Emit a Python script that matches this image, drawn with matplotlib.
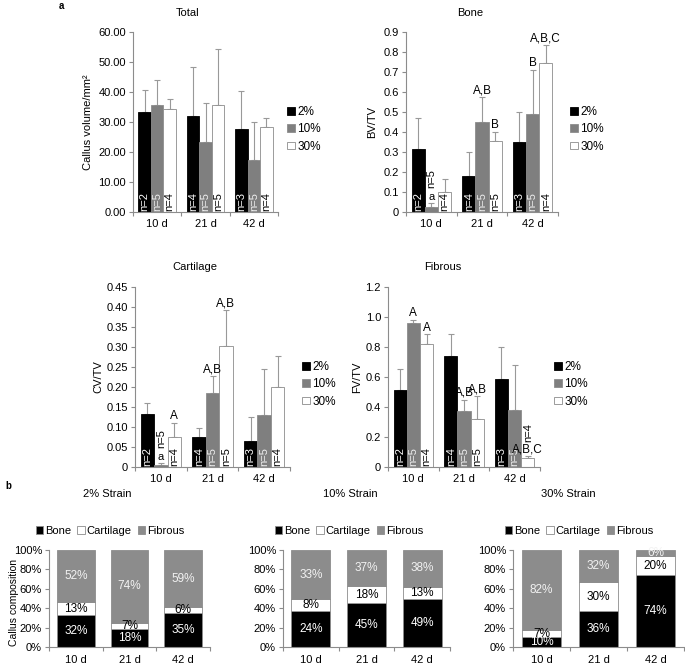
import matplotlib
matplotlib.use("Agg")
import matplotlib.pyplot as plt
import numpy as np
from matplotlib.patches import Patch

plt.rcParams['font.family'] = ['Liberation Sans', 'DejaVu Sans']
plt.rcParams['font.size'] = 8

W, H = 685, 667

days = ['10 d', '21 d', '42 d']
strains = ['2%', '10%', '30%']
n_counts = [[2, 4, 3], [5, 5, 5], [4, 5, 4]]

# means / SD, one row per strain (2%, 10%, 30%), columns = 10 d, 21 d, 42 d
total_mean = [[33.4, 31.9, 27.6], [35.6, 23.2, 17.2], [34.4, 35.6, 28.2]]
total_sd = [[7.2, 16.6, 12.9], [8.4, 13.3, 12.7], [3.4, 18.8, 3.0]]

bone_mean = [[0.317, 0.178, 0.35], [0.025, 0.452, 0.488], [0.10, 0.357, 0.745]]
bone_sd = [[0.153, 0.122, 0.15], [0.022, 0.123, 0.224], [0.067, 0.045, 0.088]]

cart_mean = [[0.133, 0.074, 0.064], [0.006, 0.185, 0.129], [0.074, 0.302, 0.201]]
cart_sd = [[0.027, 0.024, 0.06], [0.005, 0.043, 0.116], [0.037, 0.091, 0.076]]

fib_mean = [[0.516, 0.738, 0.584], [0.96, 0.376, 0.38], [0.818, 0.32, 0.06]]
fib_sd = [[0.14, 0.149, 0.216], [0.02, 0.073, 0.30], [0.066, 0.151, 0.011]]

# significance letters: (day, strain, text)
bone_letters = [(0, 1, 'a'), (1, 1, 'A,B'), (1, 2, 'B'), (2, 1, 'B'), (2, 2, 'A,B,C')]
cart_letters = [(0, 1, 'a'), (0, 2, 'A'), (1, 1, 'A,B'), (1, 2, 'A,B')]
fib_letters = [(0, 1, 'A'), (0, 2, 'A'), (1, 1, 'A,B'), (1, 2, 'A,B'), (2, 2, 'A,B,C')]

# callus composition (%), rows = strain, columns = day
comp_bone = [[32, 18, 35], [24, 45, 49], [10, 36, 74]]
comp_cart = [[13, 7, 6], [8, 18, 13], [7, 30, 20]]
comp_fib = [[52, 74, 59], [33, 37, 38], [82, 32, 6]]

bar_colors = ['black', '#7f7f7f', 'white']
text_colors = ['white', '#f0f0f0', 'black']
axis_gray = '#8c8c8c'


def rect(l, r, t, b):
    return [l / W, 1 - b / H, (r - l) / W, (b - t) / H]


def style_axis(ax, ymax, step, fmt):
    ax.set_xlim(-0.5, 2.5)
    ax.set_ylim(0, ymax)
    for s in ['top', 'right']:
        ax.spines[s].set_visible(False)
    for s in ['left', 'bottom']:
        ax.spines[s].set_color(axis_gray)
        ax.spines[s].set_linewidth(0.8)
    ticks = np.arange(0, ymax + step / 2, step)
    ax.set_yticks(ticks)
    ax.set_yticklabels([fmt(v) for v in ticks])
    ax.set_xticks([-0.5, 0.5, 1.5, 2.5])
    ax.set_xticklabels([])
    ax.set_xticks([0, 1, 2], minor=True)
    ax.set_xticklabels(days, minor=True)
    ax.tick_params(axis='x', which='minor', length=0, pad=5, labelsize=8)
    ax.tick_params(axis='both', which='major', length=3, color=axis_gray,
                   width=0.8, labelsize=8, pad=2)


def bar_panel(rc, mean, sd, ymax, step, fmt, letters, n_above):
    ax = fig.add_axes(rc)
    for s in range(3):
        x = np.arange(3) + (s - 1) * 0.26
        ax.bar(x, mean[s], width=0.26, color=bar_colors[s],
               edgecolor='black' if s == 0 else axis_gray, linewidth=0.6, zorder=2)
        ax.errorbar(x, mean[s], yerr=[np.zeros(3), sd[s]], fmt='none',
                    ecolor='#999999', elinewidth=0.8, capsize=2, capthick=0.8, zorder=1)
        for d in range(3):
            if (d, s) in n_above:
                continue
            ax.text(x[d], ymax * 0.008, 'n=%d' % n_counts[s][d], rotation=90,
                    ha='center', va='bottom', color=text_colors[s], fontsize=8, zorder=3)
    for d, s, txt in letters:
        x = d + (s - 1) * 0.26
        top = mean[s][d] + sd[s][d]
        ax.annotate(txt, (x, top), xytext=(0, 0.5), textcoords='offset points',
                    ha='center', va='bottom', fontsize=8.5 if txt != 'a' else 8, zorder=4)
        if (d, s) in n_above:
            ax.annotate('n=%d' % n_counts[s][d], (x, top), xytext=(0, 10.5),
                        textcoords='offset points', rotation=90,
                        ha='center', va='bottom', fontsize=8)
    style_axis(ax, ymax, step, fmt)
    return ax


def legend_top(x, y):
    handles = [Patch(facecolor=bar_colors[s], edgecolor='black' if s == 0 else axis_gray,
                     linewidth=0.6, label=strains[s]) for s in range(3)]
    fig.legend(handles=handles, loc='upper left', bbox_to_anchor=(x / W, 1 - y / H),
               frameon=False, fontsize=8.5, handlelength=0.65, handleheight=0.65,
               handletextpad=0.2, labelspacing=0.45, borderpad=0, borderaxespad=0)


fig = plt.figure(figsize=(W / 100, H / 100), dpi=100)

zero_fmt1 = lambda v: '0' if v == 0 else '%.1f' % v
bar_panel(rect(133, 278, 32, 212), total_mean, total_sd, 60, 10, lambda v: '%.2f' % v, [], [])
bar_panel(rect(406, 558, 32, 212), bone_mean, bone_sd, 0.9, 0.1, zero_fmt1, bone_letters, [(0, 1)])
bar_panel(rect(135, 290, 287, 467), cart_mean, cart_sd, 0.45, 0.05,
          lambda v: '0' if v == 0 else '%.2f' % v, cart_letters, [(0, 1)])
bar_panel(rect(388, 540, 287, 467), fib_mean, fib_sd, 1.2, 0.2, zero_fmt1, fib_letters, [(2, 2)])

legend_top(287, 106)
legend_top(570, 106)
legend_top(302, 361)
legend_top(554, 361)

fig.text(188 / W, 1 - 13 / H, 'Total', ha='center', va='center', fontsize=8)
fig.text(470 / W, 1 - 13 / H, 'Bone', ha='center', va='center', fontsize=8)
fig.text(195 / W, 1 - 267 / H, 'Cartilage', ha='center', va='center', fontsize=8)
fig.text(443 / W, 1 - 267 / H, 'Fibrous', ha='center', va='center', fontsize=8)

fig.text(88 / W, 1 - 122 / H, 'Callus volume/mm²', rotation=90, ha='center', va='center', fontsize=8)
fig.text(372 / W, 1 - 122 / H, 'BV/TV', rotation=90, ha='center', va='center', fontsize=8)
fig.text(98 / W, 1 - 377 / H, 'CV/TV', rotation=90, ha='center', va='center', fontsize=8)
fig.text(357 / W, 1 - 377 / H, 'FV/TV', rotation=90, ha='center', va='center', fontsize=8)

fig.text(61 / W, 1 - 6 / H, 'a', ha='center', va='center', fontsize=7, fontweight='bold')
fig.text(8 / W, 1 - 486 / H, 'b', ha='center', va='center', fontsize=7, fontweight='bold')

# composition panels
comp_rects = [rect(49, 210, 550, 647), rect(283, 450, 550, 647), rect(513, 684, 550, 647)]
comp_titles = ['2% Strain', '10% Strain', '30% Strain']
title_x = [107, 350, 568]
legend_x = [110, 349, 579]
seg_colors = ['black', 'white', '#8c8c8c']
seg_text = ['white', 'black', '#f2f2f2']
seg_names = ['Bone', 'Cartilage', 'Fibrous']

for i in range(3):
    ax = fig.add_axes(comp_rects[i])
    parts = np.array([comp_bone[i], comp_cart[i], comp_fib[i]], dtype=float)
    frac = parts / parts.sum(axis=0) * 100
    bottom = np.zeros(3)
    for k in range(3):
        ax.bar(np.arange(3), frac[k], width=0.7, bottom=bottom, color=seg_colors[k],
               edgecolor=axis_gray, linewidth=0.6)
        for d in range(3):
            ax.text(d, bottom[d] + frac[k][d] / 2, '%d%%' % parts[k][d], ha='center',
                    va='center', color=seg_text[k], fontsize=8.5)
        bottom += frac[k]
    style_axis(ax, 100, 20, lambda v: '%d%%' % v)
    ax.tick_params(axis='x', which='minor', pad=6)
    fig.text(title_x[i] / W, 1 - 494 / H, comp_titles[i], ha='center', va='center', fontsize=8)
    handles = [Patch(facecolor=seg_colors[k], edgecolor=axis_gray, linewidth=0.6,
                     label=seg_names[k]) for k in range(3)]
    fig.legend(handles=handles, loc='center', bbox_to_anchor=(legend_x[i] / W, 1 - 531 / H),
               ncol=3, frameon=False, fontsize=8, handlelength=0.65, handleheight=0.65,
               handletextpad=0.15, columnspacing=0.6, borderpad=0, borderaxespad=0)

fig.text(14 / W, 1 - 602 / H, 'Callus composition', rotation=90, ha='center', va='center', fontsize=7.5)

fig.savefig('out.png', dpi=100)
